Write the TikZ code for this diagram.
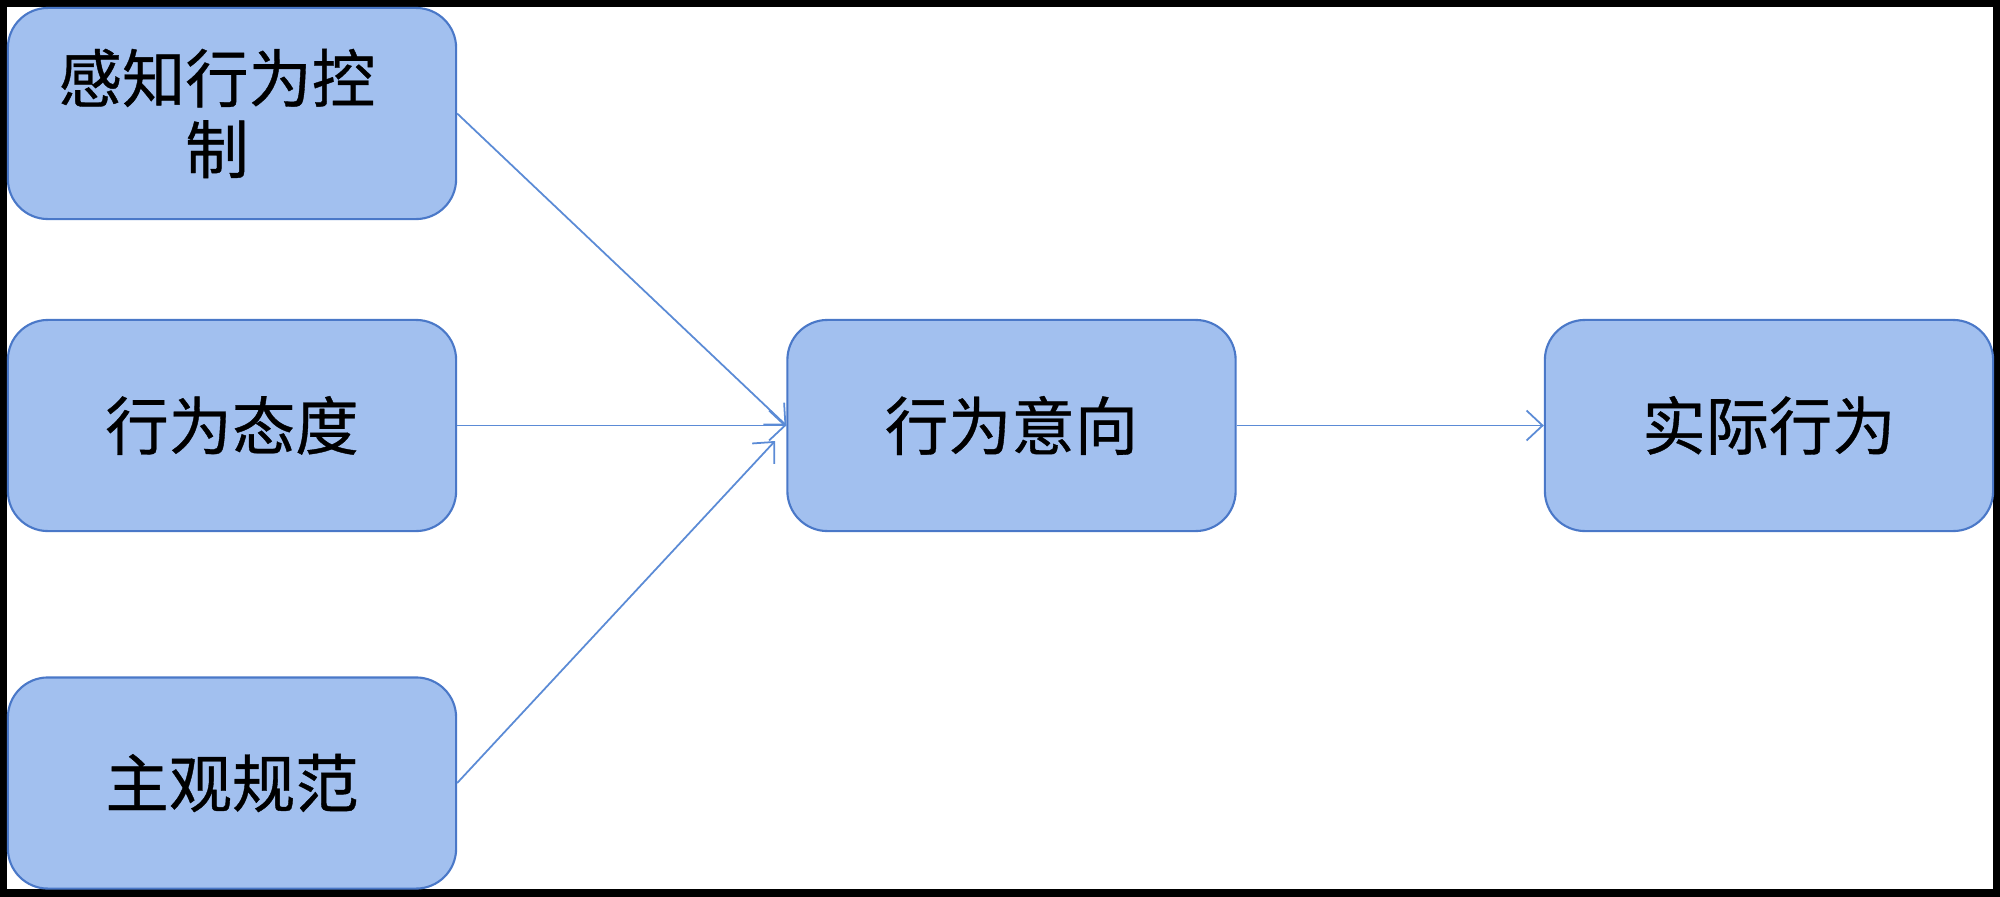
\documentclass[tikz,border=0pt]{standalone}
\usepackage{fontspec}
\newfontfamily\cjk[FakeBold=0.6]{Noto Sans CJK SC}
\usetikzlibrary{arrows.meta}
\definecolor{boxfill}{HTML}{A2C0EF}
\definecolor{boxline}{HTML}{4A78C8}
\definecolor{arrline}{HTML}{5B8BD6}
\begin{document}
\begin{tikzpicture}[x=0.01cm,y=-0.01cm,
  box/.style={draw=boxline,line width=0.6pt,fill=boxfill,rounded corners=0.4cm,
    minimum width=4.48cm,minimum height=2.11cm,inner sep=0pt,align=center,
    font=\cjk\fontsize{18pt}{20.2pt}\selectfont},
  conn/.style={draw=arrline,line width=0.5pt,-{Straight Barb[length=1.6mm,width=3mm]}}]
\fill[black] (0,0) rectangle (2000,897);
\fill[white] (7,7) rectangle (1993,889);
\node[box] (b1) at (232,113.5) {感知行为控\hspace*{0.3cm}\\制\hspace*{0.3cm}};
\node[box] (b2) at (232,425.5) {行为态度};
\node[box] (b3) at (232,783) {主观规范};
\node[box] (b4) at (1011.5,425.5) {行为意向};
\node[box] (b5) at (1769,425.5) {实际行为};
\coordinate (c3) at (775,441);
\draw[conn] (b1.east) -- (b4.west);
\draw[conn] (b2.east) -- (b4.west);
\draw[conn] (b3.east) -- (c3);
\draw[conn] (b4.east) -- (b5.west);
\end{tikzpicture}
\end{document}
